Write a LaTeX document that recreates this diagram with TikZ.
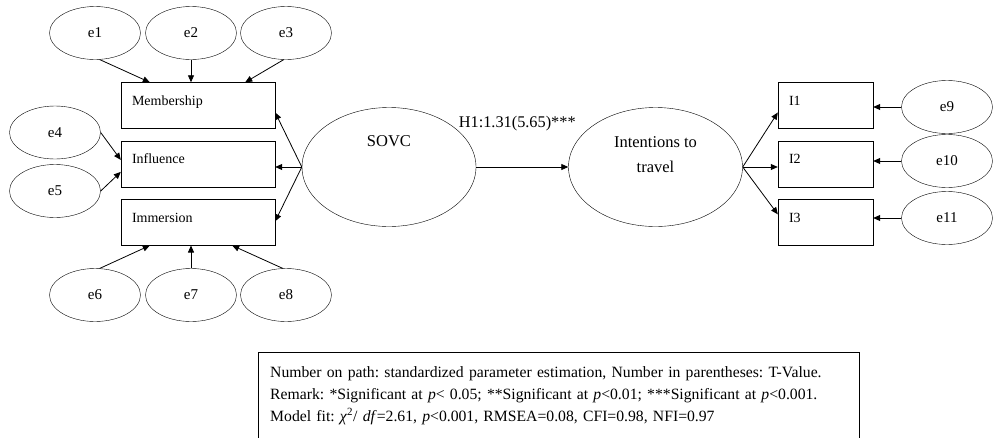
\documentclass[tikz,border=0pt]{standalone}
\usepackage{fontspec}
\setmainfont{Liberation Serif}
\usetikzlibrary{arrows.meta,positioning,calc,shapes.geometric}
\hyphenpenalty=10000
\frenchspacing

\begin{document}
\begin{tikzpicture}[
    x=1pt, y=-1pt,
    node distance=12pt,
    ind/.style={draw, rectangle, minimum height=46pt, inner xsep=11pt, inner ysep=0pt, text height=9pt, text depth=9pt, text width=#1, align=left, font=\fontsize{14}{16}\selectfont},
    ind/.default=132pt,
    err/.style={draw, ellipse, minimum width=91pt, minimum height=53pt, inner sep=0pt, font=\fontsize{15}{17}\selectfont},
    lat/.style={draw, ellipse, minimum width=174pt, minimum height=119pt, inner sep=0pt},
    latlab/.style={font=\fontsize{16.5}{25}\selectfont, align=center},
    pathlab/.style={midway, above=35.5pt, xshift=-5pt, inner sep=0pt, font=\fontsize{16.3}{20}\selectfont},
    note/.style={anchor=north west, inner xsep=12pt, inner ysep=14pt, text width=577pt, align=left, font=\fontsize{15.7}{22}\selectfont},
    arr/.style={-{Triangle[length=7pt, width=6pt]}, line width=0.8pt}
]
\useasboundingbox (0,0) rectangle (993,437);

\node[ind] (mem) at (198,105.5) {Membership};
\node[ind, below=of mem] (inf) {Influence};
\node[ind, below=of inf] (imm) {Immersion};

\node[ind=73pt] (i1) at (825.5,105.5) {I1};
\node[ind=73pt, below=of i1] (i2) {I2};
\node[ind=73pt, below=of i2] (i3) {I3};

\node[err] (e1) at (95,33) {e1};
\node[err] (e2) at (191,33) {e2};
\node[err] (e3) at (286,33) {e3};
\node[err] (e4) at (55,132.5) {e4};
\node[err] (e5) at (55,191) {e5};
\node[err] (e6) at (95,295) {e6};
\node[err] (e7) at (191,295) {e7};
\node[err] (e8) at (286,295) {e8};
\node[err] (e9) at (947,107) {e9};
\node[err] (e10) at (947,161) {e10};
\node[err] (e11) at (947,218) {e11};

\node[lat, label={[latlab, yshift=25.5pt]center:SOVC}] (sovc) at (389,167) {};
\node[lat, label={[latlab, yshift=12pt]center:{Intentions to\\travel}}] (int) at (655.5,167) {};

% indicators of SOVC
\draw[arr] (e1.-80) -- ([xshift=29pt]mem.north west);
\draw[arr] (e2) -- (e2 |- mem.north);
\draw[arr] (e3.-95) -- ([xshift=-30pt]mem.north east);
\draw[arr] (e4.east) -- ([yshift=4pt]inf.west);
\draw[arr] (e5.east) -- ([yshift=-8pt]inf.west);
\draw[arr] (e6.80) -- ([xshift=29pt]imm.south west);
\draw[arr] (e7) -- (e7 |- imm.south);
\draw[arr] (e8.97) -- ([xshift=-43pt]imm.south east);

\draw[arr] (sovc.west) -- ([yshift=-7pt]mem.east);
\draw[arr] (sovc.west) -- (sovc.west -| inf.east);
\draw[arr] (sovc.west) -- ([yshift=1pt]imm.east);

\draw[arr] (sovc) -- node[pathlab] (h1) {H1:1.31(5.65)***} (int);

% indicators of intentions
\draw[arr] (int.east) -- ([yshift=-7pt]i1.west);
\draw[arr] (int.east) -- (int.east -| i2.west);
\draw[arr] (int.east) -- ([yshift=8pt]i3.west);
\draw[arr] (e9) -- (e9 -| i1.east);
\draw[arr] (e10) -- (e10 -| i2.east);
\draw[arr] (e11) -- (e11 -| i3.east);

\node[note] (fit) at (258,352) {Number on path: standardized parameter estimation, Number in parentheses: T-Value.\\
Remark: *Significant at \textit{p}< 0.05; **Significant at \textit{p}<0.01; ***Significant at \textit{p}<0.001.\\
Model fit: \textit{χ}\textsuperscript{2}/ \textit{df}=2.61, \textit{p}<0.001, RMSEA=0.08, CFI=0.98, NFI=0.97};
\coordinate (bot) at (0,438);
\draw[line width=0.8pt] (fit.north west |- bot) |- (fit.north east) -- (fit.north east |- bot);
\end{tikzpicture}
\end{document}
